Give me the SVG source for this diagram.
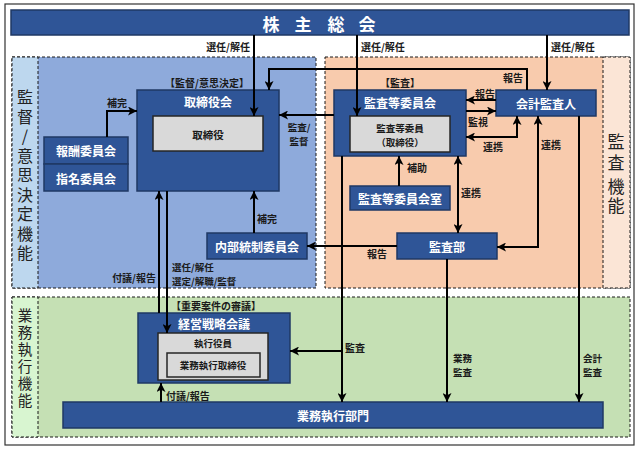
<svg xmlns="http://www.w3.org/2000/svg" width="640" height="451" viewBox="0 0 640 451">
<defs>
<style>
text{font-family:"Noto Sans CJK JP","Noto Sans CJK SC",sans-serif;}
.box{fill:#2f5597;stroke:#1f3864;stroke-width:1.5;}
.gbox{fill:#d9d9d9;stroke:#262626;stroke-width:1.5;}
.t{fill:#fff;font-weight:bold;font-size:12px;text-anchor:middle;dominant-baseline:central;}
.g{fill:#1a1a1a;font-weight:bold;font-size:9.5px;text-anchor:middle;dominant-baseline:central;}
.lbl{fill:#1a1a1a;font-weight:bold;font-size:10px;dominant-baseline:central;}
.l2{font-size:9.5px;}
.vl{fill:#222;font-size:16px;writing-mode:vertical-rl;text-orientation:upright;}
.dash{stroke:#1a1a1a;stroke-width:1;stroke-dasharray:3 2;}
.c{fill:none;stroke:#000;stroke-width:2;}
.a{marker-end:url(#ah);}
.s{marker-start:url(#ah);}
</style>
<marker id="ah" viewBox="0 0 10 10" refX="10" refY="5" markerWidth="9" markerHeight="9" markerUnits="userSpaceOnUse" orient="auto-start-reverse">
<path d="M0,0 L10,5 L0,10 L2.5,5 z" fill="#000"/>
</marker>
</defs>
<rect x="0" y="0" width="640" height="451" fill="#fff"/>
<rect x="5" y="4" width="629" height="441" fill="#fff" stroke="#333" stroke-width="1.2"/>

<g id="regions">
<rect x="12" y="57" width="304" height="231" fill="#8eaadb" class="dash"/>
<rect x="12" y="57" width="26" height="231" fill="#bdd7ee" class="dash"/>
<rect x="325" y="57" width="305" height="231" fill="#f8cbad" class="dash"/>
<rect x="603" y="57" width="27" height="231" fill="#fbe5d6" class="dash"/>
<rect x="12" y="297" width="618" height="140" fill="#c5e0b4" class="dash"/>
<rect x="12" y="297" width="26" height="140" fill="#d8f5d0" class="dash"/>
<text class="vl" x="25" y="89" style="letter-spacing:3.5px">監督/意思決定機能</text>
<text class="vl" x="616" y="133" style="font-size:17px;letter-spacing:4px">監査</text>
<text class="vl" x="616" y="178" style="font-size:17px;letter-spacing:2px">機能</text>
<text class="vl" x="25" y="308" style="font-size:14.5px;letter-spacing:2.5px">業務執行機能</text>
<text class="lbl" x="207" y="82" text-anchor="middle">【監督/意思決定】</text>
<text class="lbl" x="400" y="82" text-anchor="middle">【監査】</text>
<text class="lbl" x="216" y="305" text-anchor="middle">【重要案件の審議】</text>
</g>

<g id="kabunushi">
<rect x="11" y="10" width="618" height="25" class="box"/>
<text class="t" style="font-size:17px" y="23"><tspan x="271">株</tspan><tspan x="303">主</tspan><tspan x="336">総</tspan><tspan x="367">会</tspan></text>
</g>

<g id="torishimariyakukai">
<rect x="137" y="90" width="142" height="101" class="box"/>
<text class="t" x="208" y="101">取締役会</text>
<rect x="153" y="116" width="110" height="35" class="gbox"/>
<text class="g" style="font-size:10.5px" x="208" y="134">取締役</text>
</g>

<g id="hoshu">
<rect x="44" y="137" width="84" height="27" class="box"/>
<text class="t" x="86" y="150">報酬委員会</text>
</g>
<g id="shimei">
<rect x="44" y="164" width="84" height="27" class="box"/>
<text class="t" x="86" y="178">指名委員会</text>
</g>

<g id="naibutousei">
<rect x="207" y="233" width="100" height="26" class="box"/>
<text class="t" x="257" y="246">内部統制委員会</text>
</g>

<g id="kansatou">
<rect x="334" y="90" width="132" height="66" class="box"/>
<text class="t" x="400" y="102">監査等委員会</text>
<rect x="350" y="116" width="100" height="36" class="gbox"/>
<text class="g"><tspan x="400" y="127.5">監査等委員</tspan><tspan x="400" y="142">（取締役）</tspan></text>
</g>

<g id="kaikei">
<rect x="496" y="90" width="100" height="26" class="box"/>
<text class="t" x="546" y="103">会計監査人</text>
</g>

<g id="shitsu">
<rect x="350" y="186" width="100" height="24" class="box"/>
<text class="t" x="400" y="198">監査等委員会室</text>
</g>

<g id="kansabu">
<rect x="397" y="233" width="100" height="26" class="box"/>
<text class="t" x="447" y="246">監査部</text>
</g>

<g id="keiei">
<rect x="138" y="313" width="152" height="70" class="box"/>
<text class="t" x="214" y="323">経営戦略会議</text>
<rect x="158" y="333" width="110" height="47" class="gbox"/>
<text class="g" x="213" y="343">執行役員</text>
<rect x="167" y="353" width="93" height="24" class="gbox"/>
<text class="g" x="213" y="365">業務執行取締役</text>
</g>

<g id="gyoumu">
<rect x="63" y="402" width="540" height="26" class="box"/>
<text class="t" x="333" y="415">業務執行部門</text>
</g>

<g id="connectors">
<path class="c a" d="M254,35 V116"/>
<path class="c a" d="M357,35 V116"/>
<path class="c a" d="M547,35 V90"/>
<path class="c a" d="M527,90 V69 H269 V90"/>
<path class="c a" d="M334,115 H279"/>
<path class="c a" d="M496,100 H466"/>
<path class="c a" d="M466,111 H496"/>
<path class="c a s" d="M466,137 H517 V116"/>
<path class="c a s" d="M538,116 V247 H497"/>
<path class="c a" d="M579,116 V402"/>
<path class="c a" d="M399,186 V156"/>
<path class="c a s" d="M458,156 V233"/>
<path class="c a" d="M397,246 H307"/>
<path class="c a" d="M342,156 V402"/>
<path class="c a" d="M342,351 H290"/>
<path class="c a" d="M447,259 V402"/>
<path class="c a" d="M159,313 V191"/>
<path class="c a" d="M167,191 V333"/>
<path class="c a" d="M254,233 V191"/>
<path class="c a" d="M107,137 V111 H137"/>
<path class="c a" d="M161,402 V383"/>

<text class="lbl" x="250" y="46" text-anchor="end">選任/解任</text>
<text class="lbl" x="361" y="46">選任/解任</text>
<text class="lbl" x="551" y="46">選任/解任</text>
<text class="lbl" x="107" y="102">補完</text>
<text class="lbl l2" text-anchor="middle"><tspan x="299" y="126.5">監査/</tspan><tspan x="299" y="140.5">監督</tspan></text>
<text class="lbl" x="503" y="77">報告</text>
<text class="lbl" x="475" y="93">報告</text>
<text class="lbl" x="468" y="121">監視</text>
<text class="lbl" x="483" y="146">連携</text>
<text class="lbl" x="541" y="144">連携</text>
<text class="lbl" x="407" y="167">補助</text>
<text class="lbl" x="461" y="192">連携</text>
<text class="lbl" x="257" y="218">補完</text>
<text class="lbl" x="367" y="253">報告</text>
<text class="lbl" x="156" y="277" text-anchor="end">付議/報告</text>
<text class="lbl l2"><tspan x="172" y="266.5">選任/解任</tspan><tspan x="172" y="280.5">選定/解職/監督</tspan></text>
<text class="lbl" x="345" y="347">監査</text>
<text class="lbl l2"><tspan x="453" y="357.5">業務</tspan><tspan x="453" y="371.5">監査</tspan></text>
<text class="lbl l2"><tspan x="583" y="357.5">会計</tspan><tspan x="583" y="371.5">監査</tspan></text>
<text class="lbl" x="166" y="395">付議/報告</text>
</g>
</svg>
